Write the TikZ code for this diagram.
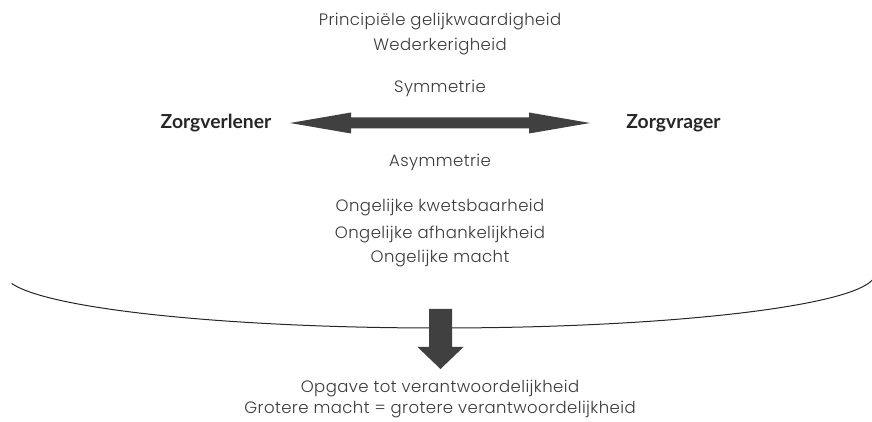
\documentclass[tikz,border=0pt]{standalone}
\usepackage{fontspec}
\setmainfont{Poppins}[UprightFont={* Light}, LetterSpace=2.5]
\newfontfamily\boldf{Lato}[UprightFont={* Bold}]
\definecolor{txt}{HTML}{3A3A3A}
\definecolor{arr}{HTML}{404040}
\begin{document}
\begin{tikzpicture}[x=1pt,y=1pt,
  lbl/.style={font=\fontsize{16.5}{19}\selectfont, text=txt, inner sep=0pt, align=center},
  party/.style={font=\boldf\fontsize{19.3}{21}\selectfont, text=black!85, inner sep=0pt},
  arrowfill/.style={fill=arr, draw=none},
  curveline/.style={draw=black!85, line width=1pt}]
\useasboundingbox (0,0) rectangle (872,422);
\node[lbl] (pg) at (440,400) {Principiële gelijkwaardigheid};
\node[lbl] (wk) at (440,375) {Wederkerigheid};
\node[lbl] (sym) at (440,334) {Symmetrie};
\node[party] (zv) at (216,299) {Zorgverlener};
\node[party] (zr) at (673.5,299) {Zorgvrager};
\node[lbl] (asym) at (440,260) {Asymmetrie};
\node[lbl] (ok) at (440,214) {Ongelijke kwetsbaarheid};
\node[lbl] (oa) at (440,188) {Ongelijke afhankelijkheid};
\node[lbl] (om) at (440,163) {Ongelijke macht};
\node[lbl] (ov) at (440,33.5) {Opgave tot verantwoordelijkheid};
\node[lbl] (gm) at (440,12) {Grotere macht = grotere verantwoordelijkheid};
% double arrow between the two parties
\coordinate (lt) at (290,299);
\coordinate (rt) at (590,299);
\fill[arrowfill] (lt) -- ++(61,10.5) -- ++(0,-5) -- ++(178,0) -- ++(0,5)
  -- (rt) -- ++(-61,-10.5) -- ++(0,5) -- ++(-178,0) -- ++(0,-5) -- cycle;
% curve
\draw[curveline] (440,148) ++(190:435 and 54) arc[start angle=190, end angle=353.5, x radius=435, y radius=54];
% down arrow
\coordinate (dtop) at (440.5,113);
\coordinate (dtip) at (440.5,53);
\fill[arrowfill] (dtop) ++(-11.5,0) -- ++(23,0) -- ++(0,-38) -- ++(11.5,0) -- (dtip) -- ++(-23,22) -- ++(11.5,0) -- cycle;
\end{tikzpicture}
\end{document}
